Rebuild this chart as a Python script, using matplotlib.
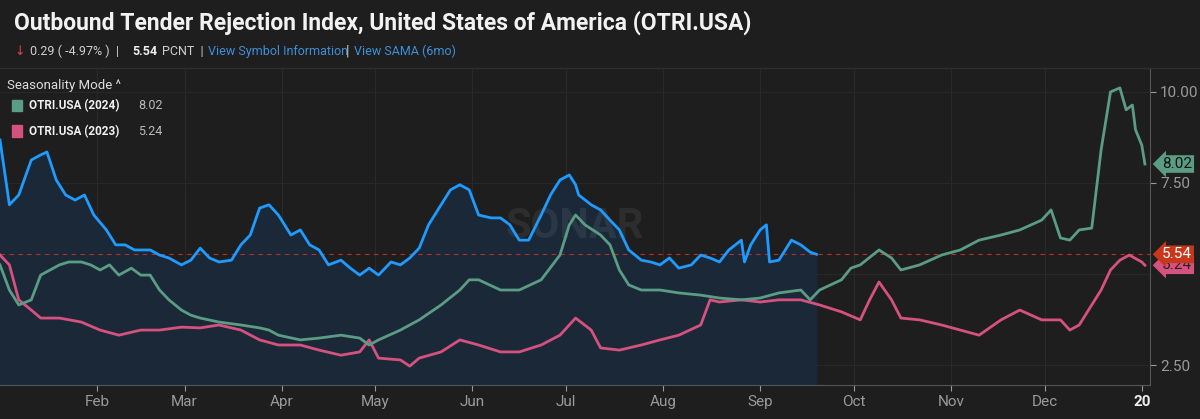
import matplotlib.pyplot as plt
from matplotlib.patches import Rectangle

plt.rcParams['font.family'] = ['Roboto', 'DejaVu Sans']

# day of year (0 = Jan 1) and index values
days_cur = [0, 3, 6, 10, 13, 15, 18, 21, 24, 27, 30, 34, 37, 40, 43, 48, 51, 54, 58, 61, 64, 67, 70, 74, 77, 80, 83, 86, 89, 93,
            96, 99, 102, 105, 109, 112, 115, 118, 121, 125, 128, 131, 134, 137, 141, 144, 147, 150, 153, 157, 160, 163, 166, 169,
            173, 176, 179, 182, 184, 185, 189, 192, 195, 198, 201, 205, 208, 211, 214, 217, 221, 224, 227, 230, 233, 237, 238,
            240, 243, 245, 246, 249, 253, 256, 259, 261]
vals_cur = [8.68, 6.90, 7.17, 8.13, 8.27, 8.35, 7.58, 7.17, 7.03, 7.17, 6.62, 6.21, 5.80, 5.80, 5.66, 5.66, 5.52, 5.44, 5.25, 5.38,
            5.71, 5.44, 5.33, 5.38, 5.80, 6.07, 6.81, 6.90, 6.62, 6.07, 6.21, 5.80, 5.66, 5.25, 5.38, 5.16, 4.97, 5.16, 4.97, 5.33,
            5.25, 5.44, 5.71, 6.35, 6.90, 7.31, 7.45, 7.31, 6.62, 6.54, 6.54, 6.35, 5.93, 5.93, 6.62, 7.17, 7.58, 7.72, 7.45, 7.17,
            6.90, 6.76, 6.48, 6.21, 5.66, 5.38, 5.33, 5.25, 5.44, 5.16, 5.25, 5.52, 5.44, 5.33, 5.66, 5.93, 5.33, 5.80, 6.21, 6.35,
            5.33, 5.38, 5.93, 5.80, 5.60, 5.54]

days_2024 = [0, 3, 6, 10, 13, 16, 19, 22, 26, 29, 32, 35, 38, 42, 45, 48, 51, 54, 58, 61, 64, 70, 77, 83, 86, 89, 96, 102, 109, 115,
             118, 121, 128, 134, 141, 147, 150, 153, 160, 166, 173, 179, 182, 184, 187, 192, 195, 198, 201, 205, 211, 217, 224,
             230, 237, 243, 249, 256, 259, 262, 269, 272, 275, 281, 285, 288, 294, 301, 307, 313, 320, 326, 333, 336, 339, 342,
             345, 349, 352, 355, 358, 360, 362, 363, 365, 366]
vals_2024 = [5.25, 4.56, 4.15, 4.29, 4.97, 5.11, 5.25, 5.33, 5.33, 5.25, 5.11, 5.25, 4.97, 5.16, 4.97, 4.97, 4.56, 4.29, 4.01, 3.87,
             3.79, 3.68, 3.60, 3.52, 3.46, 3.32, 3.19, 3.24, 3.32, 3.24, 3.05, 3.19, 3.46, 3.74, 4.15, 4.56, 4.84, 4.84, 4.56, 4.56,
             4.84, 5.52, 6.35, 6.62, 6.35, 6.07, 5.80, 5.11, 4.70, 4.56, 4.56, 4.48, 4.42, 4.34, 4.29, 4.34, 4.48, 4.56, 4.29, 4.56,
             4.84, 5.16, 5.25, 5.66, 5.44, 5.11, 5.25, 5.52, 5.66, 5.93, 6.07, 6.21, 6.48, 6.76, 5.99, 5.93, 6.21, 6.26, 8.41, 10.0,
             10.11, 9.51, 9.64, 8.96, 8.54, 8.02]

days_2023 = [0, 3, 6, 10, 13, 19, 26, 32, 38, 45, 51, 58, 64, 70, 77, 83, 89, 96, 102, 109, 115, 118, 121, 128, 131, 134, 141, 147,
             153, 160, 166, 173, 179, 184, 189, 192, 198, 205, 211, 217, 224, 227, 230, 237, 243, 249, 256, 262, 269, 275, 278,
             281, 285, 288, 294, 301, 307, 313, 320, 326, 333, 339, 342, 345, 349, 352, 355, 358, 361, 365, 366]
vals_2023 = [5.52, 5.25, 4.29, 4.01, 3.79, 3.79, 3.68, 3.46, 3.32, 3.46, 3.46, 3.54, 3.52, 3.60, 3.46, 3.19, 3.05, 3.05, 2.91, 2.77,
             2.86, 3.19, 2.69, 2.64, 2.47, 2.69, 2.86, 3.19, 3.05, 2.86, 2.86, 3.05, 3.32, 3.79, 3.46, 2.97, 2.91, 3.05, 3.19, 3.32,
             3.60, 4.29, 4.23, 4.29, 4.23, 4.29, 4.29, 4.15, 3.96, 3.74, 4.29, 4.78, 4.29, 3.79, 3.74, 3.60, 3.46, 3.32, 3.74, 4.01,
             3.74, 3.74, 3.46, 3.60, 4.15, 4.56, 5.11, 5.38, 5.52, 5.33, 5.24]

month_days = [31, 59, 90, 120, 151, 181, 212, 243, 273, 304, 334, 365]
month_labels = ['Feb', 'Mar', 'Apr', 'May', 'Jun', 'Jul', 'Aug', 'Sep', 'Oct', 'Nov', 'Dec', '20']
last_price = 5.54

bg = '#1e1e1e'
blue = '#1f9bff'
green = '#5b9c84'
pink = '#d5527e'

fig = plt.figure(figsize=(12, 4.19), dpi=100)
fig.patch.set_facecolor(bg)
ax = fig.add_axes([0, 0.081, 0.958, 0.757])
ax.set_facecolor(bg)
ax.set_xlim(0, 367.5)
ax.set_ylim(1.95, 10.66)

for d in month_days[:-1]:
    ax.axvline(d, color='#2a2a2a', lw=0.8, zorder=0)
for v in [2.5, 5.0, 7.5, 10.0]:
    ax.axhline(v, color='#282828', lw=0.8, zorder=0)

ax.fill_between(days_cur, vals_cur, 1.95, color='#1a2838', zorder=1)
ax.plot(days_2023, vals_2023, color=pink, lw=2, zorder=3)
ax.plot(days_2024, vals_2024, color=green, lw=2, zorder=3)
ax.plot(days_cur, vals_cur, color=blue, lw=2, zorder=4)
ax.axhline(last_price, color='#b0332a', lw=0.8, ls=(0, (4, 4)), zorder=2)

ax.text(0.5, 0.5, 'SONAR', transform=ax.transAxes, ha='center', va='center', fontsize=30,
        color='#ffffff', alpha=0.07, fontweight='bold', zorder=2)

for s in ['top', 'left']:
    ax.spines[s].set_visible(False)
ax.spines['right'].set_color('#555555')
ax.spines['bottom'].set_color('#555555')
ax.yaxis.tick_right()
ax.set_yticks([2.5, 7.5, 10.0])
ax.set_yticklabels(['2.50', '7.50', '10.00'])
ax.set_xticks(month_days)
ax.set_xticklabels(month_labels)
ax.tick_params(colors='#9a9a9a', labelsize=11, length=4)
ax.get_xticklabels()[-1].set_color('#eeeeee')
ax.get_xticklabels()[-1].set_fontweight('bold')

# value badges on right axis
def badge(v, txt, fc, tc):
    ax.annotate(txt, xy=(1.0, v), xycoords=('axes fraction', 'data'), xytext=(9, 0),
                textcoords='offset points', ha='left', va='center', fontsize=11, color=tc,
                bbox=dict(boxstyle='larrow,pad=0.12', fc=fc, ec='none'), annotation_clip=False)

badge(5.24, '5.24', pink, '#222222')
badge(8.02, '8.02', green, '#111111')
badge(5.54, '5.54', '#c8361c', '#ffffff')

# header
fig.text(0.012, 0.945, 'Outbound Tender Rejection Index, United States of America (OTRI.USA)',
         color='#f2f2f2', fontsize=16.5, fontweight='bold', va='center')
fig.text(0.012, 0.878, '\u2193', color='#e04646', fontsize=9, va='center', family=['DejaVu Sans'])
fig.text(0.025, 0.878, '0.29 ( -4.97% )  |', color='#cfcfcf', fontsize=9, va='center')
fig.text(0.11, 0.878, '5.54', color='#eeeeee', fontsize=9, va='center', fontweight='bold')
fig.text(0.135, 0.878, 'PCNT  |', color='#cfcfcf', fontsize=9, va='center')
fig.text(0.173, 0.878, 'View Symbol Information', color='#3f8fd8', fontsize=9, va='center')
fig.text(0.288, 0.878, '|', color='#cfcfcf', fontsize=10, va='center')
fig.text(0.295, 0.878, 'View SAMA (6mo)', color='#3f8fd8', fontsize=9, va='center')
fig.add_artist(plt.Line2D([0, 1], [0.838, 0.838], color='#2e2e2e', lw=1, transform=fig.transFigure))

fig.text(0.006, 0.797, 'Seasonality Mode ^', color='#dddddd', fontsize=9.5, va='center')
for yy, lab, val, c in [(0.748, 'OTRI.USA (2024)', '8.02', green), (0.687, 'OTRI.USA (2023)', '5.24', pink)]:
    fig.add_artist(Rectangle((0.010, yy - 0.014), 0.008, 0.028, color=c, transform=fig.transFigure))
    fig.text(0.024, yy, lab, color='#f0f0f0', fontsize=8.5, fontweight='bold', va='center')
    fig.text(0.115, yy, val, color='#bbbbbb', fontsize=9, va='center')

fig.savefig('out.png', dpi=100, facecolor=bg)
